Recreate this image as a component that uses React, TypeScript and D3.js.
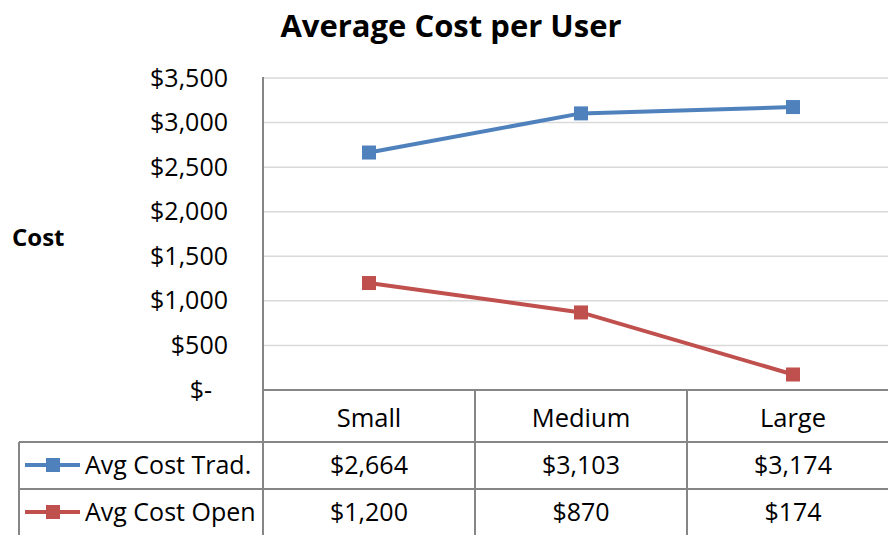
import React from 'react';
import * as d3 from 'd3';

const categories = ['Small', 'Medium', 'Large'];
const seriesNames = ['Avg Cost Trad.', 'Avg Cost Open'];
const tradValues = [2664, 3103, 3174];
const openValues = [1200, 870, 174];
const yTicks = [0, 500, 1000, 1500, 2000, 2500, 3000, 3500];
const colors = ['#4f81bd', '#c0504d'];

export default function App() {
    const width = 888;
    const height = 535;
    const plotLeft = 263;
    const plotRight = 899;
    const plotTop = 78;
    const plotBottom = 390;
    const rowBottoms = [442, 489, 536];
    const font = '"Open Sans", Lato, sans-serif';

    const x = d3.scaleBand<string>().domain(categories).range([plotLeft, plotLeft + 212 * 3]);
    const y = d3.scaleLinear().domain([0, 3500]).range([plotBottom, plotTop]);

    const fmt = (v: number) => (v === 0 ? '$-' : '$' + d3.format(',')(v));
    const line = d3.line<number>()
        .x((d, i) => x(categories[i])! + x.bandwidth() / 2)
        .y(d => y(d));

    const series = [tradValues, openValues];

    return (
        <div style={{ position: 'absolute', left: 0, top: 0 }}>
            <svg width={width} height={height} style={{ display: 'block' }}>
                <rect width={width} height={height} fill="#fff" />
                <text x={451} y={37} textAnchor="middle" fontFamily={font} fontWeight="bold" fontSize={31} fill="#000">
                    Average Cost per User
                </text>
                <text x={12} y={246} fontFamily={font} fontWeight="bold" fontSize={24} fill="#000">Cost</text>

                {/* gridlines */}
                {yTicks.filter(t => t > 0).map(t => (
                    <line key={t} x1={plotLeft} x2={plotRight} y1={y(t)} y2={y(t)} stroke="#d9d9d9" strokeWidth={1.5} />
                ))}
                {yTicks.map(t => (
                    <text key={'l' + t} x={t === 0 ? 212 : 228} y={y(t) + 8.5} textAnchor="end" fontFamily={font} fontSize={25} fill="#000">
                        {fmt(t)}
                    </text>
                ))}

                {/* series */}
                {series.map((s, si) => (
                    <g key={si}>
                        <path d={line(s) || ''} fill="none" stroke={colors[si]} strokeWidth={4} />
                        {s.map((v, i) => (
                            <rect key={i} x={x(categories[i])! + x.bandwidth() / 2 - 7} y={y(v) - 7} width={14} height={14} fill={colors[si]} />
                        ))}
                    </g>
                ))}

                {/* data table */}
                <g stroke="#868686" strokeWidth={2}>
                    <line x1={plotLeft} x2={plotLeft} y1={plotTop - 1} y2={height} />
                    <line x1={plotLeft} x2={plotRight} y1={plotBottom} y2={plotBottom} />
                    <line x1={19} x2={plotRight} y1={rowBottoms[0]} y2={rowBottoms[0]} />
                    <line x1={19} x2={plotRight} y1={rowBottoms[1]} y2={rowBottoms[1]} />
                    <line x1={19} x2={19} y1={rowBottoms[0]} y2={height} />
                    {categories.slice(1).map(c => (
                        <line key={c} x1={x(c)!} x2={x(c)!} y1={plotBottom} y2={height} />
                    ))}
                </g>
                {categories.map(c => (
                    <text key={c} x={x(c)! + x.bandwidth() / 2} y={427} textAnchor="middle" fontFamily={font} fontSize={25.5} fill="#000">{c}</text>
                ))}
                {series.map((s, si) => (
                    <g key={'row' + si}>
                        <line x1={25} x2={80} y1={rowBottoms[si] + 23} y2={rowBottoms[si] + 23} stroke={colors[si]} strokeWidth={4} />
                        <rect x={46} y={rowBottoms[si] + 16} width={14} height={14} fill={colors[si]} />
                        <text x={85} y={rowBottoms[si] + 32} fontFamily={font} fontSize={25} fill="#000">{seriesNames[si]}</text>
                        {s.map((v, i) => (
                            <text key={i} x={x(categories[i])! + x.bandwidth() / 2} y={rowBottoms[si] + 32} textAnchor="middle" fontFamily={font} fontSize={25} fill="#000">
                                {fmt(v)}
                            </text>
                        ))}
                    </g>
                ))}
            </svg>
        </div>
    );
}
